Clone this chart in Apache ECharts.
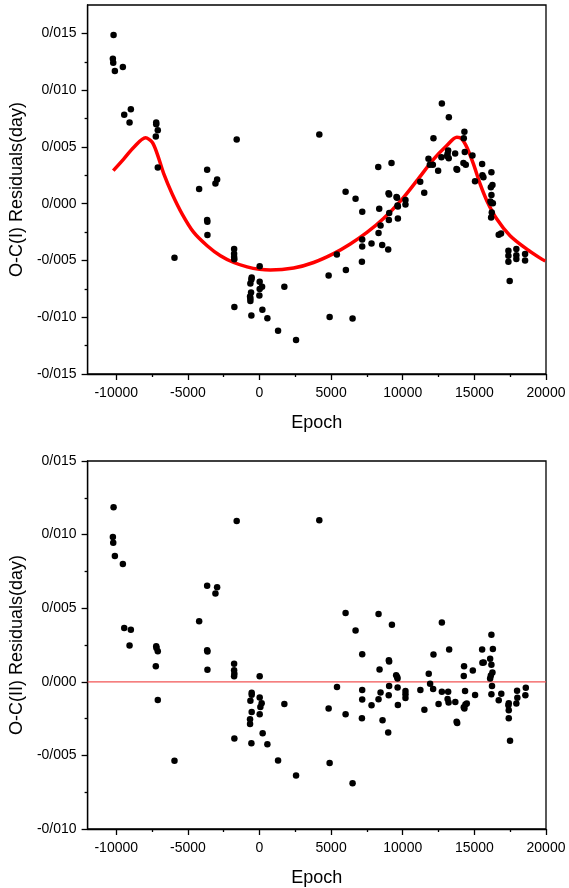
<!DOCTYPE html>
<html>
<head>
<meta charset="utf-8">
<title>O-C Residuals</title>
<script src="https://cdn.jsdelivr.net/npm/echarts@6/dist/echarts.min.js"></script>
<style>
  html, body { margin: 0; padding: 0; background: #fff; }
  #chart { width: 569px; height: 888px; }
</style>
</head>
<body>
<div id="chart"></div>
<script>
// Epoch axis ticks
const xMajorTicks = [-10000, -5000, 0, 5000, 10000, 15000, 20000];
const xMinorTicks = [-7500, -2500, 2500, 7500, 12500, 17500];

// Residual axis ticks (day)
const yMajorTicks1 = [-0.015, -0.010, -0.005, 0.000, 0.005, 0.010, 0.015];
const yMinorTicks1 = [-0.0125, -0.0075, -0.0025, 0.0025, 0.0075, 0.0125];
const yMajorTicks2 = [-0.010, -0.005, 0.000, 0.005, 0.010, 0.015];
const yMinorTicks2 = [-0.0075, -0.0025, 0.0025, 0.0075, 0.0125];

// O-C(I): epochs and residuals
const epochs1 = [
  -10187, -10236, -10210, -10097, -9539, -8981, -9444, -9072, -7210, -7210,
  -7100, -7238, -7100, -1591, 4175, -3655, -2958, -3075, -4213, -3655,
  -3640, -3634, -5934, -1772, -1772, -1772, -1760, 13, -545, -566,
  -636, 13, 180, 13, -590, -660, -636, -636, -8, 1735,
  -1755, -566, 201, 550, 1296, 2551, 4825, 4895, 6497, 17465,
  12730, 13218, 12143, 14305, 14260, 13170, 13658, 14330, 12700, 13100,
  13210, 13130, 11795, 11890, 12100, 12470, 13750, 13800, 14235, 14400,
  14865, 15540, 15560, 15630, 15045, 16190, 16260, 16150, 16190, 16120,
  16190, 16290, 16215, 16170, 16700, 16860, 17375, 17375, 17375, 17930,
  17930, 17930, 18540, 18540, 9216, 8290, 6010, 6706, 7173, 8358,
  9008, 9050, 9565, 9600, 9635, 9660, 10190, 10190, 9055, 8450,
  9030, 9660, 8310, 7170, 7170, 7820, 8565, 8985, 7150, 5400,
  6030, 11220, 11500
];
const residuals1 = [
  0.01485, 0.01277, 0.01242, 0.01168, 0.01203, 0.00832, 0.00783, 0.00715, 0.00715, 0.00700,
  0.00647, 0.00591, 0.00318, 0.00565, 0.00609, 0.00298, 0.00212, 0.00177, 0.00130, -0.00144,
  -0.00158, -0.00276, -0.00476, -0.00400, -0.00440, -0.00470, -0.00490, -0.00550, -0.00650, -0.00668,
  -0.00703, -0.00688, -0.00732, -0.00752, -0.00782, -0.00818, -0.00835, -0.00856, -0.00809, -0.00732,
  -0.00909, -0.00985, -0.00935, -0.01010, -0.01120, -0.01200, -0.00632, -0.00997, -0.01012, -0.00680,
  0.00883, 0.00762, 0.00576, 0.00633, 0.00576, 0.00468, 0.00441, 0.00456, 0.00409, 0.00420,
  0.00400, 0.00440, 0.00395, 0.00342, 0.00342, 0.00291, 0.00306, 0.00300, 0.00359, 0.00344,
  0.00424, 0.00350, 0.00250, 0.00232, 0.00197, 0.00276, 0.00165, 0.00144, 0.00077, 0.00020,
  0.00006, 0.00003, -0.00077, -0.00121, -0.00273, -0.00262, -0.00415, -0.00459, -0.00512, -0.00400,
  -0.00453, -0.00488, -0.00444, -0.00500, 0.00359, 0.00324, 0.00106, 0.00044, -0.00070, -0.00044,
  0.00091, 0.00080, 0.00060, 0.00052, -0.00015, -0.00024, 0.00033, -0.00008, -0.00082, -0.00191,
  -0.00144, -0.00130, -0.00258, -0.00315, -0.00377, -0.00350, -0.00364, -0.00403, -0.00512, -0.00447,
  -0.00585, 0.00194, 0.00097
];

// Fitted light-travel-time curve
const fitEpochs = [
  -10208, -9469, -8772, -7956, -7489, -7140, -6680, -6095, -5397, -4589,
  -3654, -2727, -1800, -866, 0, 759, 2383, 3778, 5172, 6336,
  7501, 8658, 9822, 10987, 12145, 13078, 13776, 14124, 14473, 14933,
  15400, 15868, 16565, 17492, 18656, 19702, 19950
];
const fitValues = [
  0.00291, 0.00395, 0.00497, 0.00580, 0.00541, 0.00439, 0.00262, 0.00086, -0.00091, -0.00253,
  -0.00370, -0.00459, -0.00518, -0.00556, -0.00578, -0.00585, -0.00567, -0.00518, -0.00440, -0.00355,
  -0.00253, -0.00130, 0.00020, 0.00203, 0.00390, 0.00512, 0.00585, 0.00570, 0.00497, 0.00350,
  0.00174, 0.00027, -0.00135, -0.00282, -0.00400, -0.00488, -0.00505
];

// O-C(II): epochs and residuals after removing the fit
const epochs2 = [
  -10187, -10236, -10210, -10097, -9539, -1591, 4175, -3655, -2958, -3075,
  -4213, -9444, -8981, -9072, -7210, -7190, -7100, -7238, -7100, -3655,
  -3634, -3634, -5934, -1772, -1772, -1755, -1772, 13, -545, -545,
  -636, -545, -660, -660, 13, 150, 60, 13, -1755, -566,
  220, 550, 1296, 2551, 1735, 4825, 4895, 6497, 6010, 8310,
  6706, 9245, 12730, 13240, 7170, 8380, 9030, 9050, 9540, 9610,
  9635, 12145, 11815, 11910, 12120, 5410, 7170, 7170, 6010, 7150,
  7820, 8450, 8310, 8590, 8985, 9050, 9020, 9640, 9660, 10190,
  10190, 10190, 11230, 11510, 12500, 12730, 13170, 13130, 13200, 13670,
  13800, 13760, 14260, 14305, 14375, 14470, 14280, 14260, 14350, 14890,
  15050, 15540, 15560, 15650, 16190, 16290, 16100, 16190, 16260, 16150,
  16100, 16230, 16190, 16880, 16700, 17400, 17375, 17400, 17400, 17490,
  17980, 18000, 17930, 18590, 18560
];
const residuals2 = [
  0.01186, 0.00983, 0.00944, 0.00854, 0.00800, 0.01093, 0.01098, 0.00653, 0.00642, 0.00600,
  0.00411, 0.00366, 0.00353, 0.00247, 0.00242, 0.00229, 0.00208, 0.00106, -0.00123, 0.00215,
  0.00206, 0.00082, -0.00537, 0.00123, 0.00078, 0.00055, 0.00037, 0.00037, -0.00075, -0.00088,
  -0.00129, -0.00206, -0.00255, -0.00287, -0.00106, -0.00145, -0.00171, -0.00221, -0.00385, -0.00417,
  -0.00350, -0.00424, -0.00535, -0.00636, -0.00151, -0.00182, -0.00551, -0.00690, 0.00468, 0.00461,
  0.00348, 0.00387, 0.00403, 0.00220, 0.00188, 0.00084, 0.00147, 0.00138, 0.00044, 0.00033,
  0.00022, 0.00186, 0.00055, -0.00013, -0.00049, -0.00036, -0.00056, -0.00121, -0.00221, -0.00248,
  -0.00160, -0.00072, -0.00119, -0.00262, -0.00345, -0.00029, -0.00092, -0.00038, -0.00158, -0.00063,
  -0.00085, -0.00110, -0.00056, -0.00190, -0.00151, -0.00067, -0.00067, -0.00117, -0.00140, -0.00137,
  -0.00280, -0.00272, -0.00173, -0.00182, -0.00155, -0.00148, 0.00106, 0.00039, -0.00063, 0.00076,
  -0.00090, 0.00220, 0.00129, 0.00131, 0.00319, 0.00222, 0.00156, 0.00115, 0.00063, 0.00043,
  0.00022, -0.00029, -0.00085, -0.00081, -0.00126, -0.00146, -0.00160, -0.00194, -0.00248, -0.00400,
  -0.00060, -0.00108, -0.00148, -0.00040, -0.00092
];

const zip = (xs, ys) => xs.map((x, i) => [x, ys[i]]);
const FONT = 'Liberation Sans, Arial, sans-serif';
const INK = '#000';

// Residuals printed with a slash as the decimal mark
const fmtY = v => {
  const s = Math.abs(v).toFixed(3).replace('.', '/');
  return (v < -1e-9 ? '-' : '') + s;
};
const fmtX = v => String(Math.round(v));

function xAxes(gridIndex) {
  return [
    {
      type: 'value', gridIndex, min: -12000, max: 20000,
      name: 'Epoch', nameLocation: 'middle', nameGap: 40,
      nameTextStyle: { fontFamily: FONT, fontSize: 18, color: INK },
      axisLine: { show: true, onZero: false, lineStyle: { color: INK, width: 1.3 } },
      axisTick: { show: true, inside: false, length: 6, customValues: xMajorTicks, lineStyle: { color: INK, width: 1.3 } },
      axisLabel: { customValues: xMajorTicks, formatter: fmtX, margin: 12, fontFamily: FONT, fontSize: 14, color: INK },
      splitLine: { show: false }
    },
    {
      type: 'value', gridIndex, min: -12000, max: 20000, position: 'bottom',
      axisLine: { show: false, onZero: false },
      axisTick: { show: true, inside: false, length: 3, customValues: xMinorTicks, lineStyle: { color: INK, width: 1.3 } },
      axisLabel: { show: false },
      splitLine: { show: false }
    }
  ];
}

function yAxes(gridIndex, min, max, major, minor, name) {
  return [
    {
      type: 'value', gridIndex, min, max,
      name, nameLocation: 'middle', nameGap: 58,
      nameTextStyle: { fontFamily: FONT, fontSize: 18, color: INK },
      axisLine: { show: true, onZero: false, lineStyle: { color: INK, width: 1.3 } },
      axisTick: { show: true, inside: false, length: 6, customValues: major, lineStyle: { color: INK, width: 1.3 } },
      axisLabel: { customValues: major, margin: 11, formatter: fmtY, fontFamily: FONT, fontSize: 14, color: INK },
      splitLine: { show: false }
    },
    {
      type: 'value', gridIndex, min, max, position: 'left',
      axisLine: { show: false, onZero: false },
      axisTick: { show: true, inside: false, length: 3, customValues: minor, lineStyle: { color: INK, width: 1.3 } },
      axisLabel: { show: false },
      splitLine: { show: false }
    }
  ];
}

const chart = echarts.init(document.getElementById('chart'), null, { renderer: 'canvas' });
chart.setOption({
  animation: false,
  backgroundColor: '#fff',
  grid: [
    { left: 87, top: 5, width: 459, height: 369, show: true, borderColor: INK, borderWidth: 1.3, backgroundColor: 'transparent' },
    { left: 87, top: 461, width: 459, height: 369, show: true, borderColor: INK, borderWidth: 1.3, backgroundColor: 'transparent' }
  ],
  xAxis: [...xAxes(0), ...xAxes(1)],
  yAxis: [
    ...yAxes(0, -0.015, 0.0175, yMajorTicks1, yMinorTicks1, 'O-C(I) Residuals(day)'),
    ...yAxes(1, -0.010, 0.015, yMajorTicks2, yMinorTicks2, 'O-C(II) Residuals(day)')
  ],
  series: [
    {
      type: 'line', xAxisIndex: 0, yAxisIndex: 0,
      data: zip(fitEpochs, fitValues),
      smooth: 0.3, showSymbol: false, symbol: 'none',
      lineStyle: { color: '#ff0000', width: 3.5 }, z: 2
    },
    {
      type: 'scatter', xAxisIndex: 0, yAxisIndex: 0,
      data: zip(epochs1, residuals1),
      symbol: 'circle', symbolSize: 6.5,
      itemStyle: { color: INK, opacity: 1 }, z: 3
    },
    {
      type: 'line', xAxisIndex: 2, yAxisIndex: 2,
      data: [[-12000, 0], [20000, 0]],
      showSymbol: false, symbol: 'none',
      lineStyle: { color: '#f25555', width: 1.3 }, z: 2
    },
    {
      type: 'scatter', xAxisIndex: 2, yAxisIndex: 2,
      data: zip(epochs2, residuals2),
      symbol: 'circle', symbolSize: 6.5,
      itemStyle: { color: INK, opacity: 1 }, z: 3
    }
  ]
});
</script>
</body>
</html>
